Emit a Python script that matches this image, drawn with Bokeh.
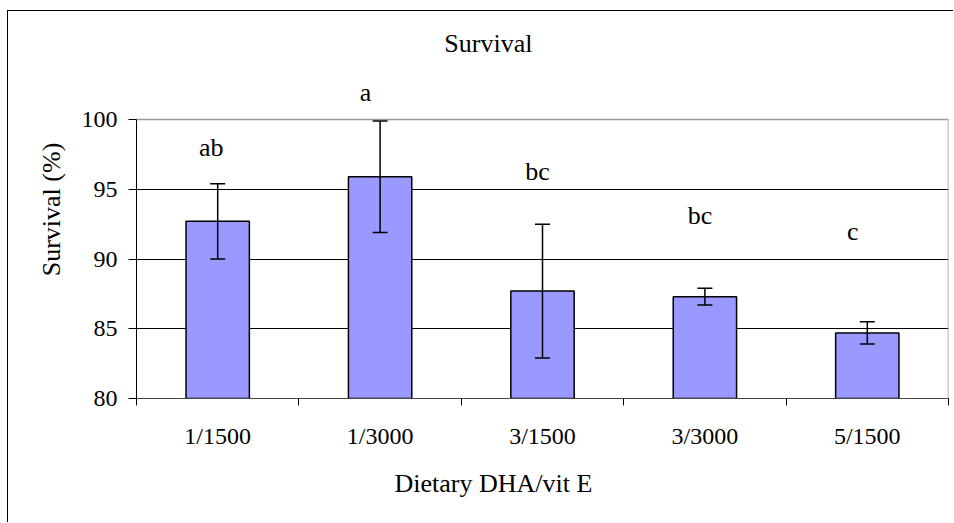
from bokeh.plotting import figure
from bokeh.models import (Range1d, FixedTicker, Whisker, TeeHead, ColumnDataSource,
                          LabelSet, Label, Title)
from bokeh.core.properties import value
from bokeh.embed import file_html
from bokeh.resources import INLINE

# ---- data ----
categories = ["1/1500", "1/3000", "3/1500", "3/3000", "5/1500"]
survival = [92.7, 95.9, 87.7, 87.3, 84.7]
error = [2.7, 4.0, 4.8, 0.6, 0.8]
letters = ["ab", "a", "bc", "bc", "c"]
letter_y = [98.0, 101.9, 96.3, 93.1, 92.0]
letter_dx = [-0.04, -0.09, -0.03, -0.03, -0.09]
y_ticks = [80, 85, 90, 95, 100]
grid_ticks = [85, 90, 95]

FONT = "Liberation Serif"
Y0, Y1 = 80, 100
N = len(categories)

# layout geometry (canvas pixels)
W, H = 946, 512
FRAME_H = 378            # frame extends above the plot area to host the title
PLOT_H = 279             # pixel height of the 80..100 plot area
px_per_unit = PLOT_H / (Y1 - Y0)
Y_TOP = Y0 + FRAME_H / px_per_unit

def y_at(page_y):
    # page y (reference picture) -> data value
    return Y0 + (398 - page_y) / px_per_unit

xs = [i + 0.5 for i in range(N)]
src = ColumnDataSource(dict(
    x=xs,
    top=survival,
    upper=[m + e for m, e in zip(survival, error)],
    lower=[m - e for m, e in zip(survival, error)],
    lx=[x + d for x, d in zip(xs, letter_dx)],
    ly=letter_y,
    letters=letters,
))

p = figure(width=W, height=H, output_backend="svg", toolbar_location=None,
           x_range=Range1d(0, N), y_range=Range1d(Y0, Y_TOP),
           min_border_left=128, min_border_right=6, min_border_top=9,
           min_border_bottom=125, background_fill_color="white",
           border_fill_color="white",
           styles={"margin-left": "7px", "margin-top": "10px",
                   "border-left": "1px solid black", "border-top": "1px solid black"})

p.outline_line_color = None

# plot-area border (top and right), grey
p.segment(x0=[0, N], y0=[Y1, Y0], x1=[N, N], y1=[Y1, Y1],
          line_color="#9a9a9a", line_width=1.5)

# grid
p.xgrid.visible = False
p.ygrid.ticker = FixedTicker(ticks=grid_ticks)
p.ygrid.grid_line_color = "black"
p.ygrid.grid_line_width = 1

# y axis
ya = p.yaxis[0]
ya.bounds = (Y0, Y1)
ya.ticker = FixedTicker(ticks=y_ticks, minor_ticks=[])
ya.axis_line_color = "black"
ya.major_tick_line_color = "black"
ya.major_tick_out = 8
ya.major_tick_in = 0
ya.minor_tick_line_color = None
ya.major_label_standoff = 11
ya.major_label_text_font = FONT
ya.major_label_text_font_size = "24px"
ya.major_label_text_color = "black"
ya.axis_label = "Survival (%)"
ya.axis_label_text_font = FONT
ya.axis_label_text_font_size = "26px"
ya.axis_label_text_font_style = "normal"
ya.axis_label_text_color = "black"
ya.axis_label_standoff = 13

# x axis
xa = p.xaxis[0]
xa.ticker = FixedTicker(ticks=xs, minor_ticks=list(range(N + 1)))
xa.major_label_overrides = {x: c for x, c in zip(xs, categories)}
xa.axis_line_color = "#444444"
xa.major_tick_line_color = None
xa.major_tick_out = 0
xa.major_tick_in = 0
xa.minor_tick_line_color = "black"
xa.minor_tick_out = 7
xa.minor_tick_in = 0
xa.major_label_standoff = 17
xa.major_label_text_font = FONT
xa.major_label_text_font_size = "24px"
xa.major_label_text_color = "black"

# bars
p.vbar(x="x", top="top", bottom=Y0, width=0.39, source=src,
       fill_color="#9999ff", line_color="black", line_width=1.5)

# error bars
p.add_layout(Whisker(source=src, base="x", upper="upper", lower="lower",
                     line_color="black", line_width=1.5, level="overlay",
                     upper_head=TeeHead(size=15, line_color="black", line_width=1.5),
                     lower_head=TeeHead(size=15, line_color="black", line_width=1.5)))

# significance letters
p.add_layout(LabelSet(x="lx", y="ly", text="letters", source=src,
                      text_align="center", text_baseline="middle",
                      text_font=value(FONT), text_font_size=value("26px"),
                      text_color="black"))

# chart title (inside the extended frame)
p.add_layout(Label(x=2.167, y=y_at(43), text="Survival", text_align="center",
                   text_baseline="middle", text_font=FONT, text_font_size="26px",
                   text_color="black"))

# x-axis title
p.add_layout(Title(text="Dietary DHA/vit E", align="left", offset=258,
                   text_font=FONT, text_font_size="26px", text_font_style="normal",
                   text_color="black", standoff=31), "below")

open("out.html", "w").write(file_html(p, INLINE))
